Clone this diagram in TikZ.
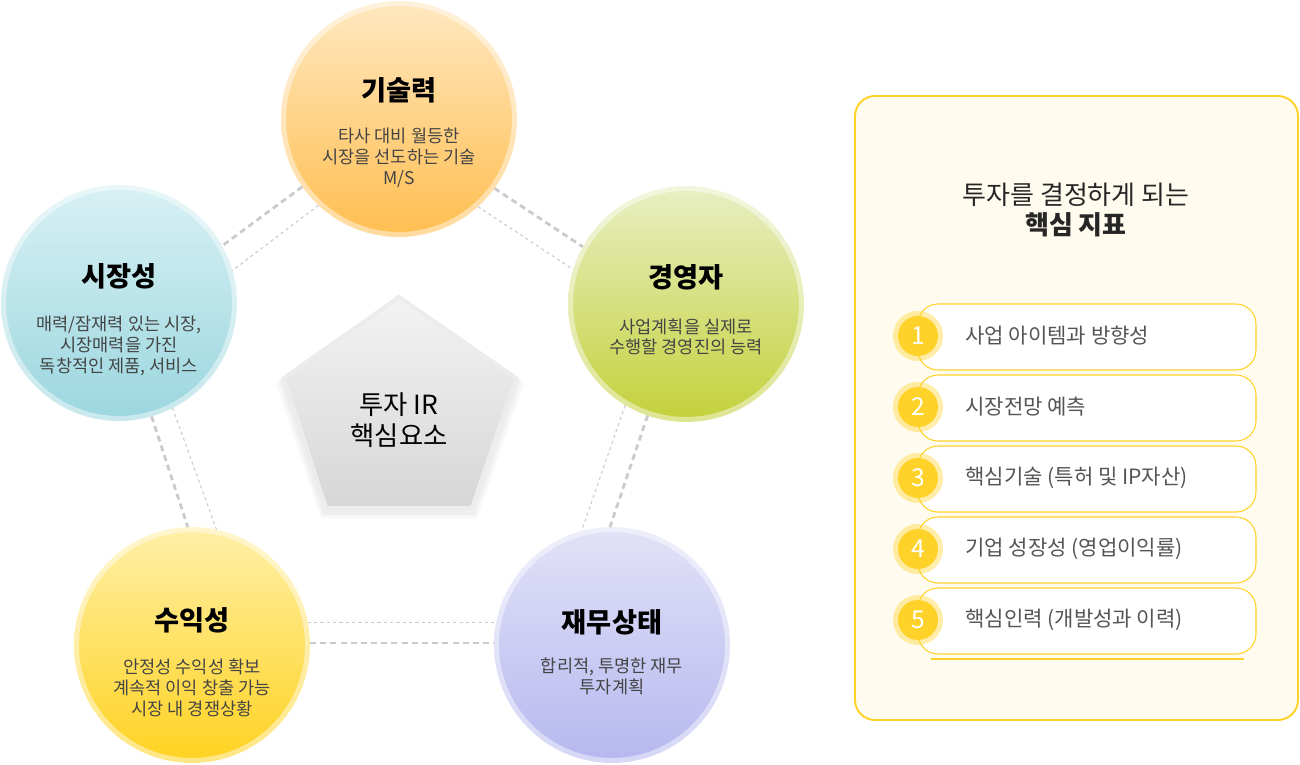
\documentclass[tikz,border=0pt]{standalone}
\usepackage{fontspec}
\setmainfont{Noto Sans CJK KR}
\definecolor{dashgray}{HTML}{CBCBCB}
\definecolor{subgray}{HTML}{444444}
\definecolor{itemgray}{HTML}{555555}
\definecolor{ylw}{HTML}{FFD22A}
\definecolor{cream}{HTML}{FFFCEF}
\begin{document}
\begin{tikzpicture}[x=0.02cm, y=-0.02cm,
		ball/.style={circle, minimum size=4.72cm, inner sep=0, outer sep=0, draw=white, draw opacity=0.45, line width=0.2cm},
		ttl/.style={font=\fontsize{15.5}{18}\selectfont\bfseries, text=black},
		sub/.style={font=\fontsize{10}{11.8}\selectfont, text=subgray, align=center},
		thickdash/.style={dashgray, line width=1.6pt, dash pattern=on 3.4pt off 2.4pt},
		thindash/.style={dashgray, line width=0.6pt, dash pattern=on 1.8pt off 1.8pt},
		itembox/.style={rectangle, rounded corners=0.4cm, minimum width=6.76cm, minimum height=1.32cm, fill=white, draw=ylw, line width=0.6pt},
		num/.style={circle, minimum size=0.8cm, inner sep=0, fill=ylw, draw=ylw, draw opacity=0.4, line width=0.2cm, text=white, font=\fontsize{14}{14}\selectfont},
		itxt/.style={anchor=west, text=itemgray, font=\fontsize{12}{14}\selectfont}
	]
		\useasboundingbox (0,0) rectangle (1300,764);
		\node[ball, top color={rgb,255:red,255;green,232;blue,192}, bottom color={rgb,255:red,255;green,190;blue,80}] (tech) at (399,119) {};
		\node[ball, top color={rgb,255:red,216;green,241;blue,244}, bottom color={rgb,255:red,155;green,214;blue,223}] (mkt) at (119,303) {};
		\node[ball, top color={rgb,255:red,232;green,239;blue,196}, bottom color={rgb,255:red,195;green,209;blue,58}] (mgmt) at (686,304) {};
		\node[ball, top color={rgb,255:red,255;green,240;blue,168}, bottom color={rgb,255:red,255;green,210;blue,32}] (prof) at (192,645) {};
		\node[ball, top color={rgb,255:red,226;green,226;blue,248}, bottom color={rgb,255:red,182;green,184;blue,239}] (fin) at (612,645) {};
		\draw[thickdash] (tech.215.7) -- (mkt.29);
		\draw[thindash] (tech.227.4) -- (mkt.16.6);
		\draw[thickdash] (tech.324.3) -- (mgmt.151.5);
		\draw[thindash] (tech.312.6) -- (mgmt.163.8);
		\draw[thickdash] (mkt.286) -- (prof.92);
		\draw[thindash] (mkt.297) -- (prof.78);
		\draw[thindash] (mgmt.239) -- (fin.105);
		\draw[thickdash] (mgmt.251.6) -- (fin.91);
		\draw[thindash] (prof.11) -- (fin.169);
		\draw[thickdash] (prof.1) -- (fin.179);
		\node[ttl] (techT) at (399,90) {기술력};
		\node[sub] (techS) at (399,158) {타사 대비 월등한\\시장을 선도하는 기술\\M/S};
		\node[ttl] (mktT) at (119,276) {시장성};
		\node[sub] (mktS) at (119,346) {매력/잠재력 있는 시장,\\시장매력을 가진\\독창적인 제품, 서비스};
		\node[ttl] (mgmtT) at (686,277) {경영자};
		\node[sub] (mgmtS) at (686,337) {사업계획을 실제로\\수행할 경영진의 능력};
		\node[ttl] (profT) at (192,620) {수익성};
		\node[sub] (profS) at (192,688) {안정성 수익성 확보\\계속적 이익 창출 가능\\시장 내 경쟁상황};
		\node[ttl] (finT) at (612,622) {재무상태};
		\node[sub] (finS) at (612,676) {합리적, 투명한 재무\\투자계획};
		\fill[black, opacity=0.03] (399,299) -- (524,383) -- (477,518) -- (321,518) -- (276,383) -- cycle;
		\fill[black, opacity=0.03] (399,297) -- (521,380) -- (475,515) -- (323,515) -- (279,380) -- cycle;
		\draw[top color={rgb,255:red,243;green,243;blue,243}, bottom color={rgb,255:red,214;green,214;blue,214}, draw={rgb,255:red,236;green,236;blue,236}, line width=2.3pt]
			(399,297) -- (516,378) -- (472,508) -- (326,508) -- (284,378) -- cycle;
		\node[align=center, font=\fontsize{15}{17.5}\selectfont, text=black] (core) at (399,420) {투자 IR\\핵심요소};
		\draw[fill=cream, draw=ylw, line width=1.1pt, rounded corners=0.4cm] (855,96) rectangle (1298,720);
		\node[align=center, font=\fontsize{14.8}{17.5}\selectfont, text=black!85] (head) at (1076,210) {투자를 결정하게 되는\\\textbf{핵심 지표}};
		\node[itembox] (b1) at (1087,337) {};
		\node[itembox] (b2) at (1087,408) {};
		\node[itembox] (b3) at (1087,479) {};
		\node[itembox] (b4) at (1087,550) {};
		\node[itembox] (b5) at (1087,621) {};
		\draw[ylw, line width=0.6pt] (931,659) -- (1244,659);
		\node[num] (n1) at (918,336) {1};
		\node[num] (n2) at (918,407) {2};
		\node[num] (n3) at (918,478) {3};
		\node[num] (n4) at (918,549) {4};
		\node[num] (n5) at (918,620) {5};
		\node[itxt] (t1) at (959,336) {사업 아이템과 방향성};
		\node[itxt] (t2) at (959,407) {시장전망 예측};
		\node[itxt] (t3) at (959,478) {핵심기술 (특허 및 IP자산)};
		\node[itxt] (t4) at (959,549) {기업 성장성 (영업이익률)};
		\node[itxt] (t5) at (959,620) {핵심인력 (개발성과 이력)};
	\end{tikzpicture}
\end{document}
